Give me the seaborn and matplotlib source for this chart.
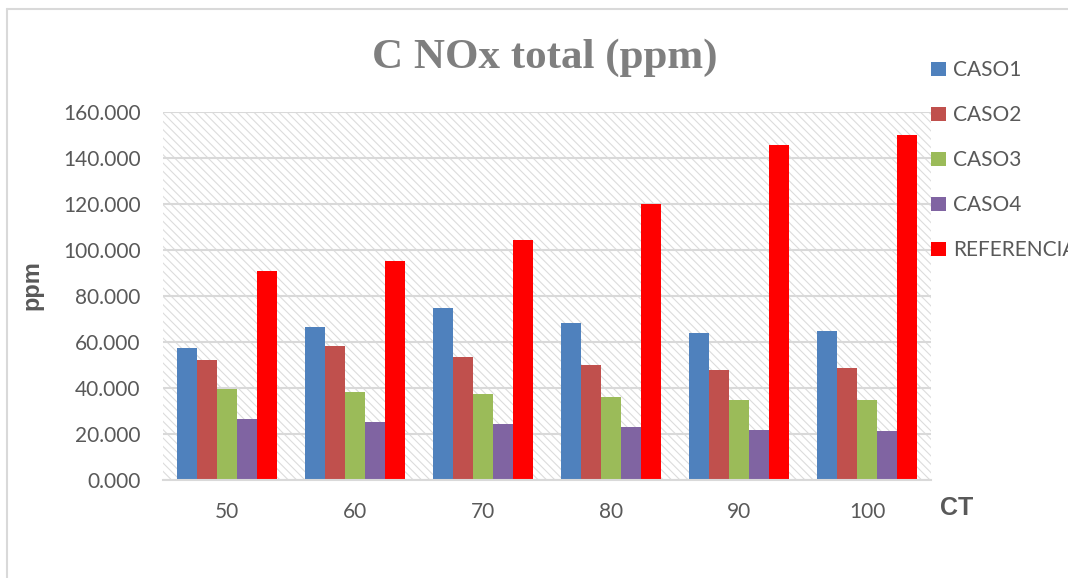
import pandas as pd
import matplotlib
matplotlib.use('Agg')
import matplotlib.pyplot as plt
import seaborn as sns
from matplotlib.patches import Rectangle
from matplotlib.lines import Line2D
from matplotlib.ticker import FuncFormatter

# ============================ DADOS ============================

ct = ['50', '60', '70', '80', '90', '100']
caso1 = [57.6, 66.4, 74.7, 68.1, 63.8, 65.0]
caso2 = [52.2, 58.1, 53.5, 50.2, 47.8, 48.6]
caso3 = [39.6, 38.3, 37.3, 36.3, 35.0, 35.0]
caso4 = [26.5, 25.2, 24.2, 22.9, 21.6, 21.3]
referencia = [91.0, 95.1, 104.2, 119.9, 145.5, 150.2]

series_names = ['CASO1', 'CASO2', 'CASO3', 'CASO4', 'REFERENCIA']
series_values = [caso1, caso2, caso3, caso4, referencia]
colors = ['#4F81BD', '#C0504D', '#9BBB59', '#8064A2', '#FF0000']

rows = []
for name, vals in zip(series_names, series_values):
    for c, v in zip(ct, vals):
        rows.append({'CT': c, 'ppm': v, 'caso': name})
df = pd.DataFrame(rows)

# ============================ ESTILO ============================

sns.set_style('white')
plt.rcParams['font.family'] = ['Lato', 'DejaVu Sans']
plt.rcParams['hatch.linewidth'] = 0.8
grid_color = '#D9D9D9'
text_color = '#595959'

W, H = 1068, 578
fig = plt.figure(figsize=(W / 100, H / 100), dpi=100)
ax = fig.add_axes([163 / W, 1 - 480 / H, (931 - 163) / W, (480 - 112) / H])

# fundo hachurado
bg = Rectangle((0, 0), 1, 1, transform=ax.transAxes, facecolor='white',
               edgecolor='#DCDCDC', hatch='\\\\\\\\', lw=0, zorder=0)
ax.add_patch(bg)

sns.barplot(data=df, x='CT', y='ppm', hue='caso', palette=colors, order=ct,
            hue_order=series_names, width=0.78, saturation=1, linewidth=0,
            legend=True, ax=ax, zorder=2)

ax.set_xlim(-0.5, 5.5)
ax.set_ylim(0, 160)
ax.set_yticks(range(0, 161, 20))
ax.yaxis.set_major_formatter(FuncFormatter(lambda v, p: f'{v:.3f}'))
ax.yaxis.grid(True, color=grid_color, lw=1.5)
ax.set_axisbelow(True)
for s in ['top', 'right', 'left']:
    ax.spines[s].set_visible(False)
ax.spines['bottom'].set_color(grid_color)
ax.spines['bottom'].set_linewidth(1.5)
ax.tick_params(axis='y', length=0, pad=16, labelsize=15, labelcolor=text_color)
ax.tick_params(axis='x', length=0, pad=16, labelsize=15, labelcolor=text_color)

ax.set_xlabel('')
ax.set_ylabel('ppm', fontsize=17, fontweight='bold', family='Liberation Sans',
              color=text_color)
ax.yaxis.set_label_coords((43 - 163) / 768, (480 - 285) / 368)

fig.text(940 / W, 1 - 508 / H, 'CT', fontsize=18, fontweight='bold',
         family='Liberation Sans', color=text_color, ha='left', va='center')

fig.text(545 / W, 1 - 58 / H, 'C NOx total (ppm)', fontsize=31, fontweight='bold',
         family='Liberation Serif', color='#7F7F7F', ha='center', va='center')

# legenda
handles, labels = ax.get_legend_handles_labels()
ax.get_legend().remove()
fig.legend(handles, labels, loc='upper left', bbox_to_anchor=(923 / W, 1 - 52 / H),
           frameon=False, fontsize=15, labelcolor=text_color, handlelength=0.7,
           handleheight=0.7, handletextpad=0.35, labelspacing=1.2, borderaxespad=0)

# moldura do gráfico (cortada à direita e embaixo)
fig.add_artist(Line2D([7 / W, 7 / W], [0, 1 - 9 / H], color=grid_color, lw=1.5))
fig.add_artist(Line2D([7 / W, 1], [1 - 9 / H, 1 - 9 / H], color=grid_color, lw=1.5))

fig.savefig('out.png', dpi=100)
